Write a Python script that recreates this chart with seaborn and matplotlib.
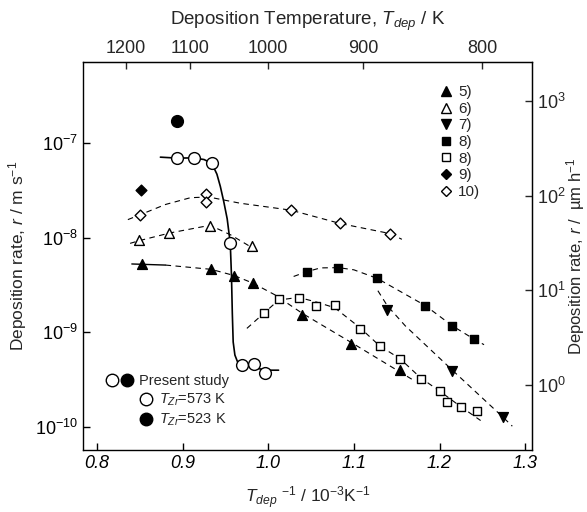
import numpy as np
import matplotlib
matplotlib.use("Agg")
import matplotlib.pyplot as plt
import seaborn as sns
from matplotlib.lines import Line2D
from matplotlib.ticker import NullLocator, FixedLocator
from matplotlib.legend_handler import HandlerTuple

# ---- data (x: 1/T in 10^-3 K^-1, r in m s^-1) ----
# present study, T_Zr = 573 K (open circles) and fitted curve
ps_open_x = [0.893, 0.9127, 0.934, 0.9556, 0.969, 0.983, 0.9965]
ps_open_r = [6.9e-8, 7.0e-8, 6.1e-8, 8.7e-9, 4.53e-10, 4.63e-10, 3.76e-10]
ps_fit_x = [0.874, 0.893, 0.913, 0.925, 0.934, 0.940, 0.944, 0.948, 0.952, 0.9556,
            0.957, 0.958, 0.959, 0.961, 0.964, 0.969, 0.983, 0.9965, 1.012]
ps_fit_r = [7.08e-8, 6.92e-8, 6.95e-8, 6.68e-8, 6.1e-8, 4.68e-8, 3.47e-8, 2.40e-8, 1.58e-8, 8.7e-9,
            3.98e-9, 1.58e-9, 7.9e-10, 5.75e-10, 4.9e-10, 4.52e-10, 4.27e-10, 3.98e-10, 3.98e-10]
# present study, T_Zr = 523 K
ps_fill_x = [0.893]
ps_fill_r = [1.71e-7]

# ref 5) filled up triangles
r5_x = [0.852, 0.933, 0.9595, 0.982, 1.0394, 1.0965, 1.1544]
r5_r = [5.27e-9, 4.63e-9, 3.94e-9, 3.31e-9, 1.54e-9, 7.6e-10, 3.98e-10]
r5_solid_x = [0.8406, 0.88]
r5_solid_r = [5.27e-9, 5.13e-9]
r5_fit_x = [0.88, 0.933, 0.96, 0.982, 1.008, 1.04, 1.097, 1.154, 1.17]
r5_fit_r = [5.13e-9, 4.63e-9, 3.98e-9, 3.31e-9, 2.48e-9, 1.58e-9, 7.8e-10, 3.8e-10, 3.1e-10]

# ref 6) open up triangles
r6_x = [0.8495, 0.8846, 0.932, 0.981]
r6_r = [9.5e-9, 1.13e-8, 1.34e-8, 8.2e-9]
r6_fit_x = [0.8386, 0.8495, 0.885, 0.932, 0.956, 0.989]
r6_fit_r = [8.7e-9, 9.3e-9, 1.12e-8, 1.35e-8, 1.07e-8, 7.1e-9]

# ref 7) filled down triangles
r7_x = [1.1388, 1.2149, 1.2745]
r7_r = [1.73e-9, 3.94e-10, 1.27e-10]
r7_fit_x = [1.128, 1.139, 1.16, 1.215, 1.2745, 1.285]
r7_fit_r = [2.75e-9, 1.91e-9, 1.17e-9, 3.98e-10, 1.26e-10, 1.02e-10]

# ref 8) filled squares
r8f_x = [1.0453, 1.082, 1.127, 1.1836, 1.2149, 1.240]
r8f_r = [4.38e-9, 4.82e-9, 3.72e-9, 1.90e-9, 1.17e-9, 8.45e-10]
r8f_fit_x = [1.0296, 1.045, 1.061, 1.082, 1.10, 1.127, 1.1836, 1.215, 1.24, 1.252]
r8f_fit_r = [3.89e-9, 4.37e-9, 4.79e-9, 4.82e-9, 4.57e-9, 3.72e-9, 1.91e-9, 1.17e-9, 8.5e-10, 7.4e-10]

# ref 8) open squares
r8o_x = [0.9945, 1.012, 1.0355, 1.056, 1.0775, 1.1068, 1.1302, 1.1536, 1.178, 1.2005, 1.209, 1.2246, 1.244]
r8o_r = [1.59e-9, 2.24e-9, 2.29e-9, 1.91e-9, 1.95e-9, 1.09e-9, 7.2e-10, 5.25e-10, 3.25e-10,
         2.40e-10, 1.83e-10, 1.64e-10, 1.46e-10]
r8o_fit_x = [0.975, 0.9945, 1.012, 1.0355, 1.056, 1.0775, 1.107, 1.13, 1.154, 1.178, 1.20, 1.224, 1.248]
r8o_fit_r = [1.10e-9, 1.58e-9, 2.19e-9, 2.34e-9, 2.09e-9, 1.82e-9, 1.12e-9, 7.2e-10, 5.25e-10,
             3.3e-10, 2.4e-10, 1.66e-10, 1.17e-10]

# ref 9) filled diamond
r9_x = [0.8515]
r9_r = [3.2e-8]

# ref 10) open diamonds
r10_x = [0.850, 0.9275, 0.9275, 1.0265, 1.084, 1.1427]
r10_r = [1.74e-8, 2.87e-8, 2.40e-8, 1.96e-8, 1.42e-8, 1.09e-8]
r10_fit_x = [0.836, 0.85, 0.88, 0.909, 0.93, 0.967, 1.0265, 1.084, 1.143, 1.156]
r10_fit_r = [1.55e-8, 1.74e-8, 2.24e-8, 2.64e-8, 2.69e-8, 2.31e-8, 1.95e-8, 1.41e-8, 1.10e-8, 9.6e-9]

top_ticks = [1200, 1100, 1000, 900, 800]
x_ticks = [0.8, 0.9, 1.0, 1.1, 1.2, 1.3]
x_ticklabels = ["0.8", "0.9", "1.0", "1.1", "1.2", "1.3"]

# ---- style ----
sns.set_style("ticks")
plt.rcParams['font.family'] = ['Liberation Sans', 'DejaVu Sans']
plt.rcParams['mathtext.fontset'] = 'custom'
plt.rcParams['mathtext.rm'] = 'Liberation Sans'
plt.rcParams['mathtext.it'] = 'Liberation Sans:italic'
plt.rcParams['mathtext.default'] = 'regular'
plt.rcParams['axes.unicode_minus'] = False

FS = 13
LFS = 12.5
fig = plt.figure(figsize=(5.87, 5.12), dpi=100)
ax = fig.add_axes([0.1414, 0.1211, 0.7649, 0.7578])
ax.set_yscale('log')

dash = (0, (5, 4))
line_kw = dict(color='black', lw=0.8, estimator=None, sort=False, ax=ax)
for fx, fr in [(r5_fit_x, r5_fit_r), (r6_fit_x, r6_fit_r), (r7_fit_x, r7_fit_r),
               (r8f_fit_x, r8f_fit_r), (r8o_fit_x, r8o_fit_r), (r10_fit_x, r10_fit_r)]:
    sns.lineplot(x=fx, y=fr, linestyle=dash, **line_kw)
sns.lineplot(x=r5_solid_x, y=r5_solid_r, color='black', lw=1.0, estimator=None, sort=False, ax=ax)
sns.lineplot(x=ps_fit_x, y=ps_fit_r, color='black', lw=1.2, estimator=None, sort=False, ax=ax)

ms = 50
def pts(x, r, marker, filled, s=ms):
    sns.scatterplot(x=x, y=r, marker=marker, s=s,
                    facecolor='black' if filled else 'white',
                    edgecolor='black', linewidth=1.0, ax=ax, zorder=3)

pts(r5_x, r5_r, '^', True)
pts(r6_x, r6_r, '^', False)
pts(r7_x, r7_r, 'v', True)
pts(r8f_x, r8f_r, 's', True, 38)
pts(r8o_x, r8o_r, 's', False, 38)
pts(r9_x, r9_r, 'D', True, 30)
pts(r10_x, r10_r, 'D', False, 30)
pts(ps_open_x, ps_open_r, 'o', False, 72)
pts(ps_fill_x, ps_fill_r, 'o', True, 72)

# ---- axes ----
ax.set_xlim(0.7836, 1.308)
ax.set_ylim(10 ** -10.243, 10 ** -6.145)
ax.xaxis.set_major_locator(FixedLocator(x_ticks))
ax.set_xticklabels(x_ticklabels, fontstyle='italic')
ax.yaxis.set_minor_locator(NullLocator())
ax.tick_params(direction='in', length=5, width=1, labelsize=FS, colors='black')
ax.xaxis.get_offset_text().set_visible(False)
ax.yaxis.get_offset_text().set_visible(False)
for sp in ax.spines.values():
    sp.set_visible(True)
    sp.set_linewidth(1.0)
    sp.set_color('black')

ax.set_xlabel(r"$\mathit{T}_{\mathit{dep}}$ $^{-1}$ / 10$^{-3}$K$^{-1}$", fontsize=12.5, labelpad=9)
ax.set_ylabel(r"Deposition rate, $\mathit{r}$ / m s$^{-1}$", fontsize=LFS, labelpad=4)


def inv_t(v):
    v = np.asarray(v, dtype=float)
    with np.errstate(divide='ignore', invalid='ignore'):
        return 1000.0 / v


top = ax.secondary_xaxis('top', functions=(inv_t, inv_t))
top.xaxis.set_major_locator(FixedLocator(top_ticks))
top.xaxis.set_minor_locator(NullLocator())
top.tick_params(direction='in', length=5, width=1, labelsize=FS)
top.set_xlabel(r"Deposition Temperature, $\mathit{T}_{\mathit{dep}}$ / K", fontsize=13.5, labelpad=11)
top.yaxis.set_visible(False)

right = ax.secondary_yaxis('right', functions=(lambda r: r * 3.6e9, lambda u: u / 3.6e9))
right.yaxis.set_minor_locator(NullLocator())
right.tick_params(direction='in', length=5, width=1, labelsize=FS)
right.set_ylabel("Deposition rate, $\\mathit{r}$ /  \u00b5m h$^{-1}$", fontsize=12,
                 rotation=90, labelpad=-1)
right.xaxis.set_visible(False)

# ---- legends ----
def h(marker, filled, size=7):
    return Line2D([], [], ls='none', marker=marker, markersize=size,
                  markerfacecolor='black' if filled else 'white',
                  markeredgecolor='black', markeredgewidth=1.0)

ref_handles = [h('^', True), h('^', False), h('v', True), h('s', True, 6),
               h('s', False, 6), h('D', True, 5), h('D', False, 5)]
ref_labels = ["5)", "6)", "7)", "8)", "8)", "9)", "10)"]
leg1 = ax.legend(ref_handles, ref_labels, loc='upper left', bbox_to_anchor=(0.795, 0.94),
                 frameon=False, handlelength=0.8, handletextpad=0.4, labelspacing=0.17,
                 fontsize=11, borderaxespad=0, borderpad=0)
ax.add_artist(leg1)

leg2 = ax.legend([(h('o', False, 9), h('o', True, 9))], ["Present study"], loc='upper left',
                 bbox_to_anchor=(0.05, 0.195), frameon=False, fontsize=10.5,
                 handler_map={tuple: HandlerTuple(ndivide=None, pad=0.1)},
                 handlelength=1.9, handletextpad=0.4, borderaxespad=0, borderpad=0)
ax.add_artist(leg2)
leg3 = ax.legend([h('o', False, 9), h('o', True, 9)],
                 [r"$\mathit{T}_{\mathit{Zr}}$=573 K", r"$\mathit{T}_{\mathit{Zr}}$=523 K"],
                 loc='upper left', bbox_to_anchor=(0.128, 0.15), frameon=False, fontsize=10.5,
                 handlelength=0.8, handletextpad=0.5, labelspacing=0.25,
                 borderaxespad=0, borderpad=0)

fig.savefig("out.png", dpi=100)
